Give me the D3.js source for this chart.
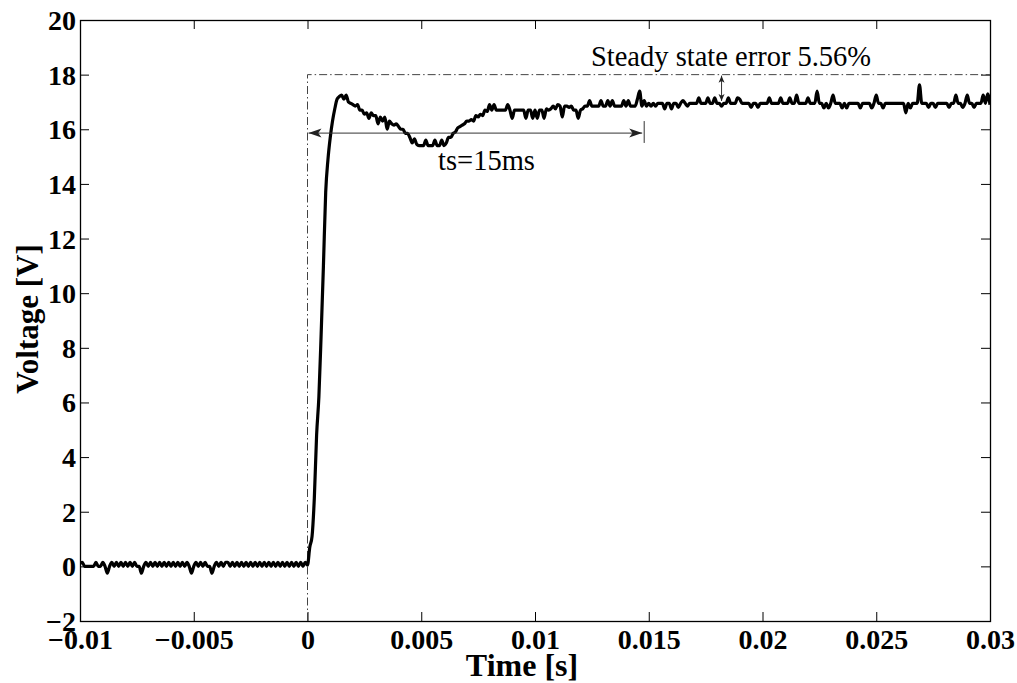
<!DOCTYPE html>
<html>
<head>
<meta charset="utf-8">
<script src="https://cdn.jsdelivr.net/npm/d3@7/dist/d3.min.js"></script>
<style>
    body { margin: 0; background: #ffffff; }
    svg { display: block; }
    .tick text { font-family: 'Liberation Serif', 'Times New Roman', serif; font-weight: bold; font-size: 28px; fill: #000; }
    .tick line { stroke: #000; stroke-width: 1; }
    .axis-label { font-family: 'Liberation Serif', 'Times New Roman', serif; font-weight: bold; font-size: 31px; }
    .note { font-family: 'Liberation Serif', 'Times New Roman', serif; font-size: 28.5px; }
</style>
</head>
<body>
<div id="graph"></div>
<script>
// axis ticks
const timeTicks = [-0.01, -0.005, 0, 0.005, 0.01, 0.015, 0.02, 0.025, 0.03];
const timeTickLabels = ['\u22120.01', '\u22120.005', '0', '0.005', '0.01', '0.015', '0.02', '0.025', '0.03'];
const voltTicks = [-2, 0, 2, 4, 6, 8, 10, 12, 14, 16, 18, 20];
const voltTickLabels = ['\u22122', '0', '2', '4', '6', '8', '10', '12', '14', '16', '18', '20'];

// measured voltage, one row per millisecond, sampled every 0.1 ms from -10 ms
const sampleStartMs = -10;
const sampleStepMs = 0.1;
const voltRows = [
    [0.1, 0.15, 0, 0, 0, 0, 0, 0.15, 0, 0],
    [0.15, 0, -0.25, 0, 0.15, 0, 0.15, 0, 0.15, 0],
    [0.15, 0, 0.15, 0, 0.15, 0, 0, -0.25, 0, 0.15],
    [0, 0.15, 0, 0.15, 0, 0.15, 0, 0.15, 0, 0.15],
    [0, 0.15, 0, 0.15, 0, 0.15, 0, 0.15, 0, -0.25],
    [0, 0.15, 0, 0.15, 0, 0.15, 0, 0, -0.25, 0],
    [0.15, 0, 0.15, 0, 0.15, 0.15, 0, 0.15, 0, 0.15],
    [0, 0.15, 0, 0.15, 0, 0.15, 0, 0.15, 0, 0.15],
    [0, 0.15, 0, 0.15, 0, 0.15, 0, 0.15, 0, 0.15],
    [0, 0.15, 0, 0.15, 0, 0.15, 0, 0.15, 0, 0.15],
    [0.05, 0.7, 1.1, 2.5, 4.8, 6.2, 8.5, 11.0, 13.7, 14.9],
    [15.7, 16.3, 16.75, 17.1, 17.2, 17.25, 17.1, 17.25, 17.0, 16.95],
    [16.9, 16.85, 16.9, 16.7, 16.7, 16.55, 16.6, 16.4, 16.6, 16.5],
    [16.5, 16.2, 16.45, 16.3, 16.45, 16.0, 16.3, 16.2, 16.15, 16.2],
    [16.1, 16.0, 16.0, 15.85, 15.85, 15.7, 15.5, 15.65, 15.45, 15.4],
    [15.4, 15.4, 15.6, 15.4, 15.4, 15.4, 15.6, 15.4, 15.4, 15.6],
    [15.4, 15.5, 15.7, 15.7, 15.85, 15.9, 16.05, 16.1, 16.15, 16.2],
    [16.3, 16.3, 16.35, 16.3, 16.5, 16.45, 16.55, 16.5, 16.7, 16.65],
    [16.9, 16.7, 16.9, 16.7, 16.7, 16.7, 16.7, 16.7, 16.9, 16.7],
    [16.4, 16.7, 16.7, 16.7, 16.7, 16.7, 16.4, 16.7, 16.7, 16.4],
    [16.7, 16.4, 16.7, 16.7, 16.4, 16.75, 16.7, 16.75, 16.85, 16.75],
    [16.9, 16.85, 16.45, 16.85, 16.85, 16.8, 16.85, 16.7, 16.7, 16.4],
    [16.7, 16.75, 16.85, 16.85, 17.05, 16.85, 16.85, 16.85, 16.85, 17.05],
    [16.85, 16.85, 17.05, 16.85, 17.05, 16.85, 16.85, 16.85, 16.85, 17.05],
    [16.85, 17.05, 16.85, 16.85, 16.85, 17.1, 17.4, 16.85, 17.05, 16.85],
    [16.95, 16.85, 16.95, 16.85, 16.95, 16.95, 16.95, 16.75, 16.95, 16.95],
    [16.75, 16.95, 16.95, 16.8, 16.95, 17.05, 16.95, 16.85, 16.95, 16.95],
    [16.95, 16.95, 17.15, 16.95, 16.95, 16.95, 17.15, 16.95, 16.95, 17.15],
    [16.95, 16.95, 16.85, 16.95, 16.95, 17.15, 16.95, 16.95, 16.95, 17.15],
    [17.1, 16.95, 16.95, 16.95, 16.95, 16.8, 16.95, 16.95, 16.8, 16.95],
    [16.95, 16.95, 16.95, 17.15, 16.95, 16.95, 16.95, 16.95, 17.15, 16.95],
    [16.95, 16.95, 17.15, 16.95, 16.95, 17.25, 16.95, 16.95, 16.95, 16.95],
    [17.15, 16.95, 16.95, 16.95, 17.4, 16.95, 16.95, 16.78, 16.95, 16.78],
    [16.95, 17.25, 16.95, 16.95, 16.95, 16.78, 16.95, 16.78, 16.95, 16.95],
    [16.95, 16.95, 16.95, 16.78, 16.95, 16.95, 16.95, 16.95, 16.78, 16.95],
    [17.25, 16.95, 16.95, 16.78, 16.95, 16.95, 16.95, 16.95, 16.95, 16.95],
    [16.95, 16.95, 16.95, 16.6, 16.95, 16.78, 16.95, 16.95, 16.95, 17.63],
    [16.95, 16.95, 16.95, 16.8, 16.95, 16.95, 16.8, 16.95, 16.95, 16.95],
    [16.95, 16.95, 16.8, 16.95, 16.95, 17.25, 16.95, 16.95, 16.8, 16.95],
    [17.25, 16.95, 16.95, 16.8, 16.95, 16.95, 16.95, 17.25, 16.95, 17.3],
    [16.9]
];

// reference step and annotations
const refLevel = 18;
const refStepTime = 0;
const settleEnd = 0.0148;
const settleArrowVolt = 15.86;
const settleTickVolts = [16.3, 15.5];
const settleText = 'ts=15ms';
const settleTextPos = [0.00574, 14.5];
const errorText = 'Steady state error 5.56%';
const errorTextPos = [0.01246, 18.32];
const errorArrowTime = 0.0182;
const errorArrowVolts = [18, 17];

const width = 1017;
const height = 683;
const plotLeft = 80, plotRight = 990, plotTop = 20, plotBottom = 621;
const tickLen = 9;

const samples = [];
voltRows.forEach((row, r) => {
    row.forEach((v, c) => {
        let ms = sampleStartMs + (r * 10 + c) * sampleStepMs;
        samples.push({ t: ms / 1000, v: v });
    });
});

let svg = d3.select('div#graph')
    .append('svg')
    .attr('width', width)
    .attr('height', height);

svg.append('rect').attr('width', width).attr('height', height).attr('fill', '#fff');

let scaleX = d3.scaleLinear().domain([-0.01, 0.03]).range([plotLeft, plotRight]);
let scaleY = d3.scaleLinear().domain([-2, 20]).range([plotBottom, plotTop]);

svg.append('defs').append('clipPath')
    .attr('id', 'plotClip')
    .append('rect')
        .attr('x', plotLeft)
        .attr('y', plotTop)
        .attr('width', plotRight - plotLeft)
        .attr('height', plotBottom - plotTop);

// axes with inward ticks on all four sides
function addAxis(axis, tx, ty) {
    let g = svg.append('g')
        .attr('transform', `translate(${ tx }, ${ ty })`)
        .call(axis);
    g.select('.domain').remove();
    return g;
}

addAxis(d3.axisBottom(scaleX).tickValues(timeTicks).tickFormat((d, i) => timeTickLabels[i])
    .tickSizeInner(-tickLen).tickSizeOuter(0).tickPadding(8), 0, plotBottom);
addAxis(d3.axisTop(scaleX).tickValues(timeTicks).tickFormat('')
    .tickSizeInner(-tickLen).tickSizeOuter(0), 0, plotTop);
let yAxisG = addAxis(d3.axisLeft(scaleY).tickValues(voltTicks).tickFormat((d, i) => voltTickLabels[i])
    .tickSizeInner(-tickLen).tickSizeOuter(0).tickPadding(4), plotLeft, 0);
yAxisG.selectAll('text').attr('dy', '0.34em');
addAxis(d3.axisRight(scaleY).tickValues(voltTicks).tickFormat('')
    .tickSizeInner(-tickLen).tickSizeOuter(0), plotRight, 0);

svg.append('rect')
    .attr('x', plotLeft + 0.5)
    .attr('y', plotTop + 0.5)
    .attr('width', plotRight - plotLeft)
    .attr('height', plotBottom - plotTop)
    .attr('fill', 'none')
    .attr('stroke', '#000')
    .attr('stroke-width', 1.3);

let plot = svg.append('g').attr('clip-path', 'url(#plotClip)');

// reference (dash-dot)
let refLine = d3.line().x(d => scaleX(d[0])).y(d => scaleY(d[1]));
plot.append('path')
    .attr('d', refLine([[refStepTime, -2], [refStepTime, refLevel], [0.03, refLevel]]))
    .attr('fill', 'none')
    .attr('stroke', '#444')
    .attr('stroke-width', 1)
    .attr('stroke-dasharray', '8,3,1.5,3');

// measured signal
let signalLine = d3.line()
    .curve(d3.curveMonotoneX)
    .x(d => scaleX(d.t))
    .y(d => scaleY(d.v));
plot.append('path')
    .datum(samples)
    .attr('d', signalLine)
    .attr('fill', 'none')
    .attr('stroke', '#000')
    .attr('stroke-width', 3.2)
    .attr('stroke-linejoin', 'round');

// arrowhead: tip at (x, y), pointing along angle (degrees)
function arrowHead(x, y, angle, len, half) {
    svg.append('path')
        .attr('d', `M0,0 L${ -len },${ -half } L${ -len * 0.75 },0 L${ -len },${ half } Z`)
        .attr('transform', `translate(${ x }, ${ y }) rotate(${ angle })`)
        .attr('fill', '#222');
}

// settling time arrow
let arrowY = scaleY(settleArrowVolt);
svg.append('line')
    .attr('x1', scaleX(refStepTime) + 1).attr('x2', scaleX(settleEnd) - 2)
    .attr('y1', arrowY).attr('y2', arrowY)
    .attr('stroke', '#333').attr('stroke-width', 1);
arrowHead(scaleX(refStepTime) + 1, arrowY, 180, 13, 4.5);
arrowHead(scaleX(settleEnd) - 2, arrowY, 0, 13, 4.5);
svg.append('line')
    .attr('x1', scaleX(settleEnd)).attr('x2', scaleX(settleEnd))
    .attr('y1', scaleY(settleTickVolts[0])).attr('y2', scaleY(settleTickVolts[1]))
    .attr('stroke', '#333').attr('stroke-width', 1);
svg.append('text')
    .attr('class', 'note')
    .attr('x', scaleX(settleTextPos[0]))
    .attr('y', scaleY(settleTextPos[1]))
    .text(settleText);

// steady state error arrow
let ex = scaleX(errorArrowTime);
svg.append('line')
    .attr('x1', ex).attr('x2', ex)
    .attr('y1', scaleY(errorArrowVolts[0]) + 1).attr('y2', scaleY(errorArrowVolts[1]) - 1)
    .attr('stroke', '#333').attr('stroke-width', 1);
arrowHead(ex, scaleY(errorArrowVolts[0]) + 1, -90, 7, 3);
arrowHead(ex, scaleY(errorArrowVolts[1]) - 1, 90, 7, 3);
svg.append('text')
    .attr('class', 'note')
    .attr('x', scaleX(errorTextPos[0]))
    .attr('y', scaleY(errorTextPos[1]))
    .text(errorText);

// axis titles
svg.append('text')
    .attr('class', 'axis-label')
    .attr('x', 522)
    .attr('y', 676)
    .attr('text-anchor', 'middle')
    .style('font-size', '32px')
    .text('Time [s]');
let yLabelX = 38;
let yLabelY = 319;
svg.append('text')
    .attr('class', 'axis-label')
    .attr('x', yLabelX)
    .attr('y', yLabelY)
    .attr('transform', `rotate(-90 ${ yLabelX } ${ yLabelY })`)
    .attr('text-anchor', 'middle')
    .text('Voltage [V]');
</script>
</body>
</html>
